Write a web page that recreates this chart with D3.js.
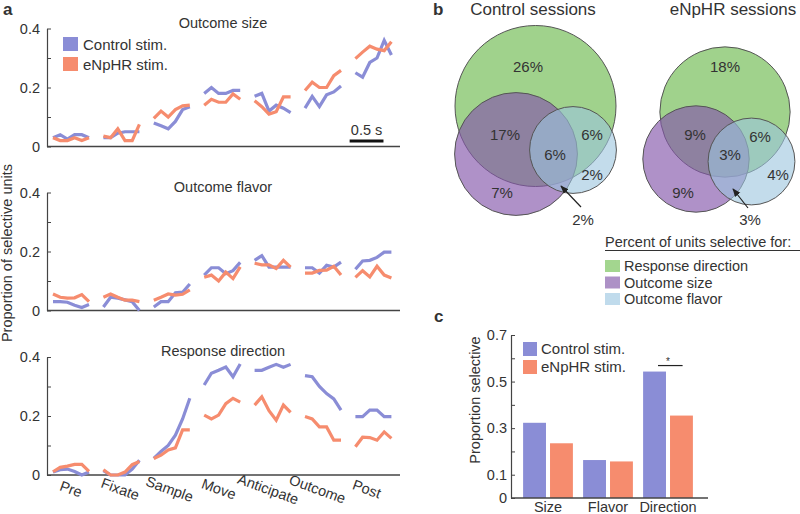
<!DOCTYPE html>
<html><head><meta charset="utf-8">
<script src="https://cdn.jsdelivr.net/npm/d3@7"></script>
<style>
body{margin:0;background:#fff;}
text{font-family:"Liberation Sans",Arial,sans-serif;fill:#333;}
</style></head><body>
<svg id="chart" width="800" height="514"></svg>
<script>
// ---------------- DATA ----------------
const epochs = ["Pre","Fixate","Sample","Move","Anticipate","Outcome","Post"];
const seriesNames = ["Control stim.","eNpHR stim."];

const sizeControl = [
  [0.03,0.04,0.025,0.04,0.04,0.03],
  [0.03,0.03,0.045,0.05,0.05,0.05],
  [0.08,0.07,0.06,0.085,0.125,0.135],
  [0.18,0.2,0.18,0.18,0.19,0.19],
  [0.17,0.18,0.12,0.14,0.13,0.115],
  [0.13,0.17,0.135,0.175,0.185,0.205],
  [0.25,0.235,0.285,0.30,0.36,0.31]
];
const sizeNpHR = [
  [0.03,0.02,0.02,0.03,0.02,0.03],
  [0.035,0.03,0.06,0.02,0.02,0.075],
  [0.095,0.12,0.10,0.125,0.138,0.14],
  [0.14,0.16,0.15,0.15,0.178,0.16],
  [0.155,0.135,0.11,0.118,0.168,0.168],
  [0.19,0.218,0.2,0.2,0.24,0.258],
  [0.298,0.32,0.34,0.33,0.325,0.355]
];
const flavorControl = [
  [0.03,0.03,0.028,0.018,0.01,0.02],
  [0.012,0.045,0.042,0.036,0.03,0.0],
  [0.012,0.03,0.03,0.06,0.062,0.09],
  [0.12,0.145,0.145,0.125,0.135,0.163],
  [0.17,0.186,0.147,0.147,0.147,0.147],
  [0.145,0.145,0.127,0.153,0.147,0.164],
  [0.14,0.168,0.17,0.18,0.198,0.198]
];
const flavorNpHR = [
  [0.056,0.045,0.042,0.043,0.054,0.03],
  [0.045,0.056,0.045,0.035,0.035,0.03],
  [0.035,0.045,0.056,0.052,0.055,0.07],
  [0.113,0.12,0.10,0.13,0.108,0.148],
  [0.16,0.155,0.155,0.142,0.17,0.147],
  [0.127,0.127,0.136,0.137,0.15,0.12],
  [0.112,0.135,0.114,0.15,0.12,0.11]
];
const directionControl = [
  [0.01,0.018,0.02,0.012,0.0,0.01],
  [0.015,0.0,0.0,0.0,0.02,0.05],
  [0.056,0.08,0.10,0.135,0.19,0.26],
  [0.305,0.345,0.355,0.366,0.333,0.376],
  [0.355,0.355,0.365,0.375,0.365,0.375],
  [0.337,0.333,0.30,0.276,0.258,0.22],
  [0.198,0.198,0.22,0.22,0.198,0.198]
];
const directionNpHR = [
  [0.011,0.026,0.03,0.036,0.036,0.012],
  [0.018,0.0,0.0,0.01,0.035,0.046],
  [0.056,0.067,0.085,0.092,0.153,0.153],
  [0.203,0.19,0.203,0.242,0.26,0.247],
  [0.237,0.265,0.218,0.186,0.237,0.212],
  [0.198,0.19,0.163,0.163,0.118,0.118],
  [0.096,0.128,0.127,0.118,0.146,0.124]
];
const panelTitles = ["Outcome size","Outcome flavor","Response direction"];
const yTicks = [0,0.1,0.2,0.3,0.4];
const yTickLabels = ["0","","0.2","","0.4"];

// Venn: region percentages
const vennTitles = ["Control sessions","eNpHR sessions"];
// [dirOnly, sizeOnly, flavorOnly, dir&size, dir&flavor, size&flavor, all]
const vennControl = [26,7,2,17,6,2,6];
const vennNpHR = [18,9,4,9,6,3,3];
const vennLegendTitle = "Percent of units selective for:";
const vennSets = ["Response direction","Outcome size","Outcome flavor"];

// Bar chart
const barCategories = ["Size","Flavor","Direction"];
const barControl = [0.323,0.163,0.543];
const barNpHR = [0.235,0.157,0.354];
const barTicks = [0,0.1,0.2,0.3,0.4,0.5,0.6,0.7];
const barTickLabels = ["0","0.1","","0.3","","0.5","","0.7"];

// ---------------- STYLE ----------------
const cBlue = "#8a8dd6", cOrange = "#f68c6e";
const vennFill = ["#a0d28c","#8456ab","#9bc5de"];
const vennOpacity = [1,0.65,0.6];
const vennLegendFill = ["#a3d68f","#ad91c6","#c0dbec"];
const axisColor = "#444";
const fontSz = 14.5;

const svg = d3.select("#chart");

// ---------------- PANEL A ----------------
const nPts = 6, gapUnits = 7;
const x = d3.scaleLinear().domain([0, 47]).range([53, 391.4]);
const axisX0 = 47, axisX1 = 400;
const panelBottoms = [146.5, 310.5, 475];
const panelH = 118;
const panelData = [[sizeControl,sizeNpHR],[flavorControl,flavorNpHR],[directionControl,directionNpHR]];

svg.append("text").attr("x",3).attr("y",15).attr("font-size",17).attr("font-weight","bold").text("a");

panelBottoms.forEach((b,pi)=>{
  const y = d3.scaleLinear().domain([0,0.4]).range([b, b-panelH]);
  const g = svg.append("g");
  const ax = g.append("g").attr("transform",`translate(${axisX0},0)`)
    .call(d3.axisLeft(y).tickValues(yTicks).tickFormat((d,i)=>yTickLabels[i]).tickSizeInner(-4).tickSizeOuter(0).tickPadding(7));
  ax.select(".domain").attr("stroke",axisColor).attr("stroke-width",1.2);
  ax.selectAll(".tick line").attr("stroke",axisColor);
  ax.selectAll("text").attr("font-size",fontSz).attr("fill","#333").attr("font-family","Liberation Sans, Arial, sans-serif");
  g.append("line").attr("x1",axisX0).attr("x2",axisX1).attr("y1",y(0)).attr("y2",y(0))
    .attr("stroke",axisColor).attr("stroke-width",1.5);
  g.append("text").attr("x",223).attr("y",b-panelH-1).attr("text-anchor","middle").attr("font-size",fontSz).text(panelTitles[pi]);
  const line = d3.line().x(d=>x(d[0])).y(d=>y(d[1]));
  panelData[pi].forEach((series,si)=>{
    series.forEach((seg,ei)=>{
      const pts = seg.map((v,j)=>[ei*gapUnits+j, v]);
      g.append("path").attr("d",line(pts)).attr("fill","none")
        .attr("stroke", si===0?cBlue:cOrange).attr("stroke-width",3.2);
    });
  });
  if(pi===0){
    [cBlue,cOrange].forEach((c,i)=>{
      g.append("rect").attr("x",63).attr("y",37+i*20).attr("width",15).attr("height",14).attr("fill",c);
      g.append("text").attr("x",83).attr("y",49.5+i*20).attr("font-size",15).text(seriesNames[i]);
    });
    const sb0 = 41.2;
    g.append("line").attr("x1",x(sb0)).attr("x2",x(sb0+4.7)).attr("y1",b-5.5).attr("y2",b-5.5)
      .attr("stroke","#111").attr("stroke-width",3);
    g.append("text").attr("x",(x(sb0)+x(sb0+4.7))/2).attr("y",b-12).attr("text-anchor","middle").attr("font-size",fontSz).text("0.5 s");
  }
  if(pi===2){
    epochs.forEach((e,ei)=>{
      const cx = x(ei*gapUnits+2.5) - ei*1.1;
      g.append("text").attr("transform",`translate(${cx},489) rotate(20)`)
        .attr("text-anchor","middle").attr("dy","0.35em").attr("font-size",fontSz).text(e);
    });
  }
});
svg.append("text").attr("transform","translate(12,253) rotate(-90)").attr("text-anchor","middle")
  .attr("font-size",fontSz).text("Proportion of selective units");

// ---------------- PANEL B ----------------
svg.append("text").attr("x",433).attr("y",15).attr("font-size",17).attr("font-weight","bold").text("b");
const rScale = d3.scaleSqrt().domain([0,55]).range([0,80.5]);
function setTotals(v){
  return [v[0]+v[3]+v[4]+v[6], v[1]+v[3]+v[5]+v[6], v[2]+v[4]+v[5]+v[6]];
}
const vennLayouts = [
  {title:[533,15], centers:[[535.5,106],[516,154],[573,150]],
   labels:[[528,67],[502,193],[592,175],[505,135],[592,135],[583,220],[555,155]],
   arrow:[[581,207],[561,186]]},
  {title:[733,15], centers:[[725,112],[696,159],[751.5,161.5]],
   labels:[[725,67],[683,193],[778,175],[695,135],[760,137],[750,220],[730,155]],
   arrow:[[748,208],[733,189]]}
];
svg.append("defs").append("marker").attr("id","arr").attr("viewBox","0 0 10 10").attr("refX",9).attr("refY",5)
  .attr("markerWidth",7).attr("markerHeight",7).attr("orient","auto")
  .append("path").attr("d","M0,1 L10,5 L0,9 z").attr("fill","#222");

[vennControl,vennNpHR].forEach((v,vi)=>{
  const L = vennLayouts[vi];
  const tot = setTotals(v);
  const g = svg.append("g");
  g.append("text").attr("x",L.title[0]).attr("y",L.title[1]).attr("text-anchor","middle").attr("font-size",17).text(vennTitles[vi]);
  tot.forEach((t,ci)=>{
    g.append("circle").attr("cx",L.centers[ci][0]).attr("cy",L.centers[ci][1]).attr("r",rScale(t))
      .attr("fill",vennFill[ci]).attr("fill-opacity",vennOpacity[ci]).attr("stroke","#555").attr("stroke-width",1);
  });
  v.forEach((p,k)=>{
    g.append("text").attr("x",L.labels[k][0]).attr("y",L.labels[k][1]).attr("text-anchor","middle")
      .attr("dy","0.35em").attr("font-size",15).attr("fill","#2a2a2a").text(p+"%");
  });
  g.append("line").attr("x1",L.arrow[0][0]).attr("y1",L.arrow[0][1]).attr("x2",L.arrow[1][0]).attr("y2",L.arrow[1][1])
    .attr("stroke","#222").attr("stroke-width",1.2).attr("marker-end","url(#arr)");
});
const lg = svg.append("g");
lg.append("text").attr("x",605).attr("y",247).attr("font-size",fontSz).text(vennLegendTitle);
lg.append("line").attr("x1",605).attr("x2",800).attr("y1",250.5).attr("y2",250.5).attr("stroke","#333").attr("stroke-width",1);
vennSets.forEach((s,i)=>{
  lg.append("rect").attr("x",605).attr("y",260+i*16.5).attr("width",15).attr("height",12).attr("fill",vennLegendFill[i]);
  lg.append("text").attr("x",624).attr("y",271+i*16.5).attr("font-size",fontSz).text(s);
});

// ---------------- PANEL C ----------------
svg.append("text").attr("x",434).attr("y",322).attr("font-size",17).attr("font-weight","bold").text("c");
const yb = d3.scaleLinear().domain([0,0.7]).range([498,335]);
const xb = d3.scaleBand().domain(barCategories).range([518,698]).paddingInner(0.17).paddingOuter(0.085);
const xs = d3.scaleBand().domain([0,1]).range([0,xb.bandwidth()]).paddingInner(0.15);
const cg = svg.append("g");
[barControl,barNpHR].forEach((arr,si)=>{
  cg.selectAll(null).data(arr).enter().append("rect")
    .attr("x",(d,i)=>xb(barCategories[i])+xs(si)).attr("width",xs.bandwidth())
    .attr("y",d=>yb(d)).attr("height",d=>yb(0)-yb(d)).attr("fill",si===0?cBlue:cOrange);
});
const cax = cg.append("g").attr("transform","translate(511,0)")
  .call(d3.axisLeft(yb).tickValues(barTicks).tickFormat((d,i)=>barTickLabels[i]).tickSizeInner(-4).tickSizeOuter(0).tickPadding(4));
cax.select(".domain").attr("stroke",axisColor).attr("stroke-width",1.2);
cax.selectAll(".tick line").attr("stroke",axisColor);
cax.selectAll("text").attr("font-size",fontSz).attr("fill","#333").attr("font-family","Liberation Sans, Arial, sans-serif");
cg.append("line").attr("x1",511).attr("x2",708).attr("y1",yb(0)).attr("y2",yb(0)).attr("stroke",axisColor).attr("stroke-width",1.5);
barCategories.forEach(c=>{
  cg.append("text").attr("x",xb(c)+xb.bandwidth()/2).attr("y",512).attr("text-anchor","middle").attr("font-size",fontSz).text(c);
});
const dirX = xb("Direction");
const sigY = yb(barControl[2]) - 6;
cg.append("line").attr("x1",dirX+xs(0)+xs.bandwidth()*0.65).attr("x2",dirX+xs(1)+xs.bandwidth()*0.55)
  .attr("y1",sigY).attr("y2",sigY).attr("stroke","#222").attr("stroke-width",1.2);
cg.append("text").attr("x",dirX+xb.bandwidth()/2).attr("y",sigY-1).attr("text-anchor","middle").attr("font-size",10).text("*");
[cBlue,cOrange].forEach((c,i)=>{
  cg.append("rect").attr("x",523).attr("y",342+i*18).attr("width",14).attr("height",14).attr("fill",c);
  cg.append("text").attr("x",541).attr("y",354+i*18).attr("font-size",15).text(seriesNames[i]);
});
svg.append("text").attr("transform","translate(480,400) rotate(-90)").attr("text-anchor","middle")
  .attr("font-size",fontSz).text("Proportion selective");
</script>
</body></html>
